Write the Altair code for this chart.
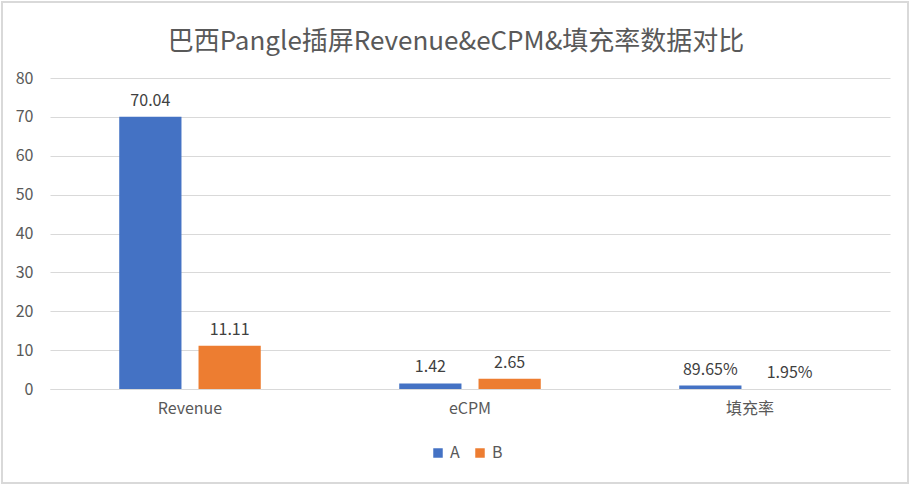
import altair as alt
import pandas as pd

title_text = "巴西Pangle插屏Revenue&eCPM&填充率数据对比"
categories = ["Revenue", "eCPM", "填充率"]
series_a = [70.04, 1.42, 0.8965]
series_b = [11.11, 2.65, 0.0195]
labels_a = ["70.04", "1.42", "89.65%"]
labels_b = ["11.11", "2.65", "1.95%"]
y_ticks = [0, 10, 20, 30, 40, 50, 60, 70, 80]

rows = []
for c, v, l in zip(categories, series_a, labels_a):
    rows.append({"cat": c, "series": "A", "value": v, "label": l})
for c, v, l in zip(categories, series_b, labels_b):
    rows.append({"cat": c, "series": "B", "value": v, "label": l})
df = pd.DataFrame(rows)

FONT = "Noto Sans CJK SC"
GRAY = "#595959"
FS = 16

x = alt.X("cat:N", sort=categories, title=None,
          scale=alt.Scale(paddingInner=0, paddingOuter=0),
          axis=alt.Axis(labelAngle=0, ticks=False, domainColor="#D9D9D9",
                        labelColor=GRAY, labelFontSize=FS, labelFont=FONT,
                        labelPadding=11))
xo = alt.XOffset("series:N", scale=alt.Scale(paddingInner=0.215, paddingOuter=0.873))
y = alt.Y("value:Q", title=None,
          scale=alt.Scale(domain=[0, 80]),
          axis=alt.Axis(values=y_ticks, ticks=False, domain=False,
                        gridColor="#D9D9D9", labelColor=GRAY, labelFontSize=FS,
                        labelFont=FONT, labelPadding=17))

color = alt.Color("series:N",
                  scale=alt.Scale(domain=["A", "B"], range=["#4472C4", "#ED7D31"]),
                  legend=alt.Legend(title=None, orient="none", direction="horizontal",
                                    legendX=380, legendY=367, symbolType="square",
                                    symbolSize=90, symbolStrokeWidth=0,
                                    labelFontSize=FS, labelColor=GRAY, labelFont=FONT,
                                    columnPadding=12, labelOffset=4))

bars = alt.Chart(df).mark_bar().encode(x=x, xOffset=xo, y=y, color=color)
text = alt.Chart(df).mark_text(baseline="bottom", dy=-8, fontSize=FS,
                               color="#404040", font=FONT).encode(
    x=x, xOffset=xo, y=y, text="label:N")

border = alt.Chart(pd.DataFrame({"k": [0]})).mark_rect(
    fill=None, stroke="#D9D9D9", strokeWidth=2).encode(
    x=alt.value(-48), x2=alt.value(858), y=alt.value(-76), y2=alt.value(405))

title = alt.Chart(pd.DataFrame({"t": [title_text]})).mark_text(
    fontSize=26, font=FONT, color=GRAY, align="center", baseline="middle").encode(
    x=alt.value(406), y=alt.value(-36), text="t:N")

chart = alt.layer(border, bars, text, title).properties(
    width=840, height=311,
    autosize=alt.AutoSizeParams(type="none"),
    padding={"left": 50, "top": 78, "right": 22, "bottom": 97},
).configure_view(stroke=None)

chart.save("out.html", embed_options={"renderer": "svg", "actions": False})
